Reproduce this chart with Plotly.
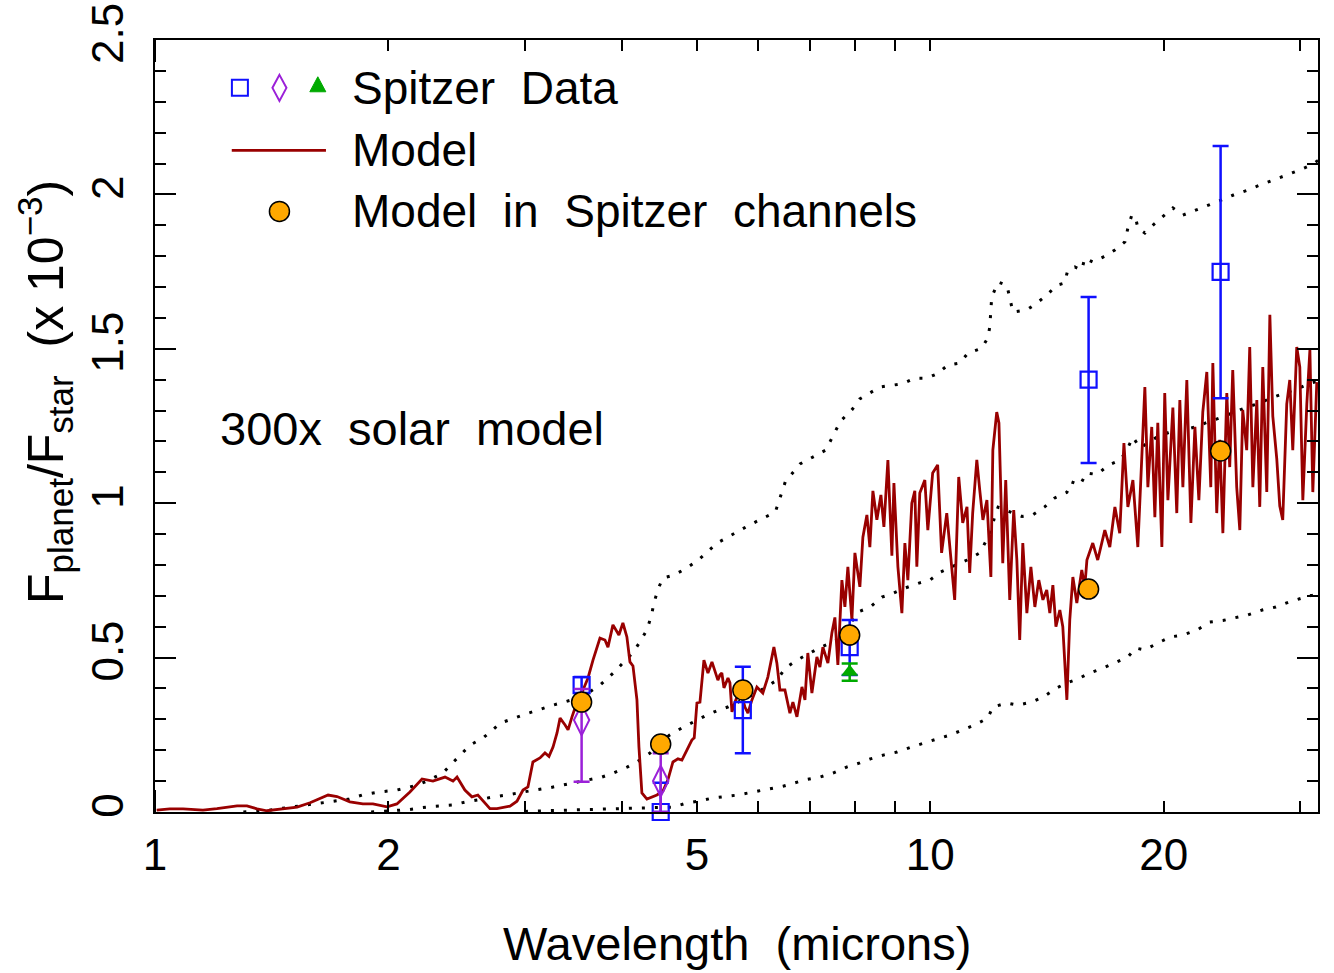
import plotly.graph_objects as go

# ---------------- data ----------------
model_wl = [1.005, 1.015, 1.045, 1.087, 1.153, 1.202, 1.276, 1.314, 1.354, 1.394, 1.463, 1.525, 1.585,
            1.672, 1.717, 1.784, 1.854, 1.910, 1.992, 2.051, 2.132, 2.210, 2.283, 2.366, 2.423, 2.452,
            2.510, 2.563, 2.609, 2.648, 2.704, 2.761, 2.870, 2.930, 2.983, 3.027, 3.072, 3.137, 3.184,
            3.222, 3.261, 3.300, 3.330, 3.380, 3.410, 3.450, 3.502, 3.565, 3.618, 3.672, 3.749, 3.805,
            3.839, 3.896, 3.943, 3.966, 4.013, 4.061, 4.098, 4.135, 4.184, 4.209, 4.246, 4.310, 4.440,
            4.520, 4.587, 4.656, 4.726, 4.782, 4.853, 4.925, 4.960, 5.000, 5.045, 5.105, 5.166, 5.228,
            5.321, 5.354, 5.384, 5.418, 5.483, 5.515, 5.548, 5.598, 5.681, 5.766, 5.818, 5.887, 5.975,
            6.081, 6.172, 6.284, 6.340, 6.397, 6.493, 6.590, 6.649, 6.729, 6.830, 6.891, 6.950, 7.035,
            7.140, 7.204, 7.268, 7.377, 7.465, 7.532, 7.599, 7.690, 7.759, 7.828, 7.922, 7.993, 8.112,
            8.185, 8.283, 8.356, 8.432, 8.532, 8.635, 8.712, 8.816, 8.921, 8.975, 9.082, 9.190, 9.272,
            9.354, 9.465, 9.550, 9.607, 9.692, 9.838, 9.926, 10.07, 10.22, 10.34, 10.50, 10.63, 10.75,
            10.88, 11.01, 11.15, 11.24, 11.34, 11.48, 11.58, 11.69, 11.83, 11.97, 12.04, 12.18, 12.26,
            12.40, 12.51, 12.66, 12.81, 12.93, 13.04, 13.16, 13.32, 13.48, 13.64, 13.80, 13.97, 14.13,
            14.26, 14.39, 14.52, 14.69, 14.82, 15.00, 15.13, 15.27, 15.45, 15.68, 15.82, 15.92, 16.20,
            16.44, 16.79, 17.04, 17.30, 17.55, 17.77, 17.98, 18.25, 18.52, 18.74, 18.91, 19.08, 19.30,
            19.48, 19.65, 19.89, 20.06, 20.25, 20.55, 20.79, 20.98, 21.17, 21.42, 21.68, 21.94, 22.20,
            22.46, 22.73, 23.00, 23.14, 23.41, 23.62, 23.84, 24.12, 24.33, 24.55, 24.84, 25.07, 25.29,
            25.59, 25.82, 26.06, 26.37, 26.60, 26.84, 27.16, 27.41, 27.65, 27.98, 28.23, 28.48, 28.82,
            29.08, 29.34, 29.69, 29.96, 30.23, 30.59, 30.87, 31.14, 31.51]
model_flux = [0.006, 0.007, 0.010, 0.010, 0.006, 0.011, 0.020, 0.020, 0.010, 0.004, 0.010, 0.016, 0.030,
              0.055, 0.050, 0.033, 0.026, 0.026, 0.017, 0.026, 0.065, 0.107, 0.100, 0.113, 0.100, 0.113,
              0.071, 0.049, 0.055, 0.037, 0.011, 0.011, 0.019, 0.035, 0.071, 0.081, 0.162, 0.175, 0.191,
              0.180, 0.210, 0.256, 0.304, 0.282, 0.266, 0.308, 0.356, 0.395, 0.434, 0.492, 0.563, 0.557,
              0.534, 0.606, 0.583, 0.573, 0.612, 0.567, 0.486, 0.473, 0.363, 0.210, 0.062, 0.042, 0.055,
              0.068, 0.104, 0.162, 0.172, 0.168, 0.200, 0.233, 0.240, 0.353, 0.356, 0.492, 0.450, 0.486,
              0.427, 0.444, 0.450, 0.402, 0.434, 0.418, 0.324, 0.356, 0.395, 0.340, 0.320, 0.363, 0.405,
              0.385, 0.437, 0.534, 0.482, 0.395, 0.395, 0.320, 0.356, 0.308, 0.405, 0.363, 0.515, 0.385,
              0.502, 0.469, 0.534, 0.482, 0.580, 0.630, 0.476, 0.751, 0.664, 0.794, 0.622, 0.839, 0.729,
              0.890, 0.962, 0.858, 1.040, 0.946, 1.027, 0.923, 1.140, 0.830, 1.065, 0.794, 0.644, 0.871,
              0.751, 1.000, 1.040, 0.794, 1.033, 1.075, 0.913, 1.098, 1.124, 0.839, 0.968, 0.806, 0.687,
              1.085, 0.936, 0.988, 0.774, 0.968, 1.140, 1.043, 0.946, 1.010, 0.761, 1.172, 1.295, 1.260,
              0.806, 1.075, 0.687, 0.978, 0.816, 0.557, 0.871, 0.644, 0.794, 0.664, 0.751, 0.687, 0.719,
              0.644, 0.735, 0.600, 0.654, 0.600, 0.363, 0.622, 0.761, 0.677, 0.784, 0.729, 0.816, 0.871,
              0.816, 0.913, 0.858, 0.988, 0.903, 1.195, 0.988, 1.075, 0.858, 1.150, 1.376, 1.052, 1.247,
              0.955, 1.260, 0.858, 1.357, 1.010, 1.310, 0.968, 1.334, 1.052, 1.399, 0.936, 1.247, 1.010,
              1.295, 1.425, 1.052, 1.454, 0.968, 1.205, 0.903, 1.357, 1.117, 1.431, 1.052, 0.913, 1.302,
              1.172, 1.506, 1.052, 1.334, 0.988, 1.441, 1.036, 1.610, 1.282, 1.143, 0.991, 0.946, 1.321,
              1.399, 1.172, 1.506, 1.441, 1.010, 1.321, 1.496, 1.036, 1.392]

hot_wl = [1.30, 1.40, 1.46, 1.53, 1.59, 1.67, 1.72, 1.78, 1.85, 1.95, 2.05, 2.11, 2.18, 2.26, 2.35, 2.42,
          2.49, 2.55, 2.65, 2.79, 3.03, 3.26, 3.55, 3.75, 3.90, 4.01, 4.13, 4.22, 4.31, 4.37, 4.40, 4.46,
          4.52, 4.67, 4.85, 5.02, 5.31, 5.85, 6.31, 6.50, 6.79, 7.33, 7.66, 7.92, 8.11, 8.61, 9.21, 9.55,
          9.90, 10.22, 10.53, 10.92, 11.18, 11.65, 11.86, 11.93, 12.00, 12.23, 12.55, 12.66, 12.78, 13.32,
          13.72, 14.13, 14.56, 14.90, 15.04, 15.36, 15.68, 15.82, 16.20, 16.70, 17.30, 17.82, 17.98, 18.19,
          18.39, 18.52, 18.91, 19.36, 19.95, 20.55, 21.17, 22.07, 22.93, 23.76, 24.60, 25.67, 26.60, 27.65,
          28.82, 29.96, 31.00, 31.62]
hot_flux = [0.000, 0.005, 0.012, 0.018, 0.025, 0.032, 0.036, 0.042, 0.055, 0.065, 0.071, 0.078, 0.087,
            0.104, 0.126, 0.159, 0.191, 0.217, 0.240, 0.288, 0.320, 0.346, 0.372, 0.411, 0.450, 0.482,
            0.515, 0.550, 0.590, 0.638, 0.677, 0.725, 0.758, 0.767, 0.790, 0.816, 0.871, 0.930, 0.971,
            1.069, 1.127, 1.172, 1.266, 1.302, 1.338, 1.376, 1.387, 1.405, 1.405, 1.420, 1.447, 1.454,
            1.486, 1.502, 1.535, 1.570, 1.668, 1.716, 1.706, 1.665, 1.619, 1.626, 1.648, 1.674, 1.706,
            1.713, 1.755, 1.765, 1.755, 1.794, 1.781, 1.797, 1.820, 1.846, 1.891, 1.933, 1.927, 1.891,
            1.875, 1.900, 1.927, 1.956, 1.933, 1.950, 1.966, 1.982, 1.998, 2.014, 2.030, 2.047, 2.063,
            2.079, 2.095, 2.110]

mid_wl = [1.90, 2.13, 2.21, 2.28, 2.42, 2.51, 2.61, 2.73, 2.84, 2.98, 3.07, 3.22, 3.36, 3.56, 3.77, 3.90,
          4.07, 4.22, 4.35, 4.47, 4.61, 4.78, 4.94, 5.15, 5.33, 5.48, 5.80, 6.05, 6.34, 6.50, 6.73, 6.95,
          7.20, 7.58, 8.11, 8.37, 8.66, 8.90, 9.20, 9.69, 10.00, 10.30, 11.15, 11.58, 11.97, 12.10, 12.23,
          12.58, 13.13, 13.55, 14.04, 14.47, 15.00, 15.20, 15.60, 15.90, 16.40, 16.99, 17.60, 17.98, 18.25,
          18.64, 19.65, 20.40, 21.17, 22.00, 22.80, 23.62, 24.60, 25.60, 26.60, 27.50, 28.70, 29.90, 30.90,
          31.62]
mid_flux = [0.000, 0.008, 0.014, 0.018, 0.023, 0.032, 0.039, 0.049, 0.055, 0.065, 0.070, 0.078, 0.088,
            0.100, 0.113, 0.126, 0.146, 0.168, 0.191, 0.223, 0.249, 0.272, 0.290, 0.314, 0.330, 0.340,
            0.370, 0.395, 0.427, 0.466, 0.492, 0.512, 0.532, 0.557, 0.650, 0.664, 0.696, 0.705, 0.722,
            0.742, 0.752, 0.777, 0.816, 0.839, 0.907, 0.955, 0.987, 0.975, 0.957, 0.962, 0.988, 1.017,
            1.035, 1.069, 1.059, 1.098, 1.093, 1.124, 1.140, 1.180, 1.214, 1.179, 1.216, 1.231, 1.237,
            1.247, 1.263, 1.276, 1.295, 1.311, 1.324, 1.341, 1.357, 1.373, 1.389, 1.395]

cold_wl = [3.00, 4.10, 4.50, 4.66, 4.85, 5.05, 5.23, 5.64, 6.00, 6.47, 6.89, 7.20, 7.49, 7.81, 8.11, 8.37,
           8.72, 9.06, 9.47, 9.84, 10.19, 10.60, 11.01, 11.41, 11.86, 12.04, 12.55, 12.96, 13.51, 13.97,
           14.56, 15.00, 15.50, 16.05, 16.70, 17.30, 17.98, 18.39, 18.91, 19.65, 20.40, 21.17, 22.07, 22.93,
           23.84, 24.60, 25.67, 26.80, 27.90, 29.00, 30.30, 31.14, 31.62]
cold_flux = [0.002, 0.013, 0.015, 0.016, 0.029, 0.036, 0.045, 0.055, 0.068, 0.084, 0.104, 0.113, 0.126,
             0.146, 0.159, 0.172, 0.185, 0.194, 0.211, 0.223, 0.236, 0.249, 0.266, 0.282, 0.304, 0.340,
             0.353, 0.346, 0.356, 0.372, 0.402, 0.418, 0.431, 0.450, 0.466, 0.482, 0.502, 0.531, 0.525,
             0.547, 0.567, 0.573, 0.589, 0.615, 0.620, 0.628, 0.638, 0.654, 0.664, 0.680, 0.693, 0.703,
             0.710]

blue_wl = [3.55, 4.49, 5.73, 7.87, 16.0, 23.68]
blue_flux = [0.411, 0.000, 0.330, 0.534, 1.400, 1.749]
blue_err_plus = [0.026, 0.095, 0.140, 0.088, 0.268, 0.408]
blue_err_minus = [0.026, 0.000, 0.140, 0.090, 0.270, 0.409]

purple_wl = [3.55, 4.49]
purple_flux = [0.298, 0.100]
purple_err_plus = [0.100, 0.090]
purple_err_minus = [0.200, 0.100]

green_wl = [7.87]
green_flux = [0.453]
green_err = [0.028]

chan_wl = [3.55, 4.49, 5.73, 7.87, 16.0, 23.68]
chan_flux = [0.356, 0.220, 0.395, 0.573, 0.722, 1.169]

x_tickvals = [1, 2, 5, 10, 20]
x_minor_tickvals = [3, 4, 6, 7, 8, 9, 30]
y_tickvals = [0, 0.5, 1, 1.5, 2, 2.5]
y_ticktext = ["0", "0.5", "1", "1.5", "2", "2.5"]

# ---------------- styles ----------------
FONT = "Liberation Sans, Arial, sans-serif"
RED = "#990000"
BLUE = "#1010FF"
PURPLE = "#9B20D8"
GREEN = "#00AA00"
ORANGE = "#FFA800"
DOT = dict(color="black", width=3, dash="3px,10px")

fig = go.Figure()
for wl, fl in [(hot_wl, hot_flux), (mid_wl, mid_flux), (cold_wl, cold_flux)]:
    fig.add_trace(go.Scatter(x=wl, y=fl, mode="lines", line=DOT, showlegend=False))

fig.add_trace(go.Scatter(x=model_wl, y=model_flux, mode="lines",
                         line=dict(color=RED, width=2.8), showlegend=False))

fig.add_trace(go.Scatter(
    x=blue_wl, y=blue_flux, mode="markers", cliponaxis=False, showlegend=False,
    marker=dict(symbol="square-open", size=16, color=BLUE, line=dict(width=2.2, color=BLUE)),
    error_y=dict(type="data", symmetric=False, array=blue_err_plus, arrayminus=blue_err_minus,
                 color=BLUE, thickness=2.5, width=8)))

fig.add_trace(go.Scatter(
    x=purple_wl, y=purple_flux, mode="markers", cliponaxis=False, showlegend=False,
    marker=dict(symbol="diamond-tall-open", size=22, color=PURPLE, line=dict(width=2, color=PURPLE)),
    error_y=dict(type="data", symmetric=False, array=purple_err_plus, arrayminus=purple_err_minus,
                 color=PURPLE, thickness=2.5, width=8)))

fig.add_trace(go.Scatter(
    x=green_wl, y=green_flux, mode="markers", cliponaxis=False, showlegend=False,
    marker=dict(symbol="triangle-up", size=15, color=GREEN),
    error_y=dict(type="data", array=green_err, color=GREEN, thickness=2.5, width=8)))

fig.add_trace(go.Scatter(
    x=chan_wl, y=chan_flux, mode="markers", cliponaxis=False, showlegend=False,
    marker=dict(symbol="circle", size=20, color=ORANGE, line=dict(width=1.5, color="black"))))

# ---------------- legend glyphs (drawn as pixel-sized shapes) ----------------
shapes = []
row1, row2, row3 = 0.938, 0.857, 0.778
shapes.append(dict(type="rect", xref="paper", yref="paper", xsizemode="pixel", ysizemode="pixel",
                   xanchor=0.073, yanchor=row1, x0=-8, x1=8, y0=-8, y1=8,
                   line=dict(color=BLUE, width=2)))
shapes.append(dict(type="path", xref="paper", yref="paper", xsizemode="pixel", ysizemode="pixel",
                   xanchor=0.107, yanchor=row1, path="M0,13 L7,0 L0,-13 L-7,0 Z",
                   line=dict(color=PURPLE, width=2)))
shapes.append(dict(type="path", xref="paper", yref="paper", xsizemode="pixel", ysizemode="pixel",
                   xanchor=0.140, yanchor=row1 + 0.004, path="M-8,-7 L8,-7 L0,8 Z",
                   fillcolor=GREEN, line=dict(color=GREEN, width=1)))
shapes.append(dict(type="line", xref="paper", yref="paper", x0=0.066, x1=0.147, y0=row2, y1=row2,
                   line=dict(color=RED, width=2.8)))
shapes.append(dict(type="circle", xref="paper", yref="paper", xsizemode="pixel", ysizemode="pixel",
                   xanchor=0.107, yanchor=row3, x0=-10, x1=10, y0=-10, y1=10,
                   fillcolor=ORANGE, line=dict(color="black", width=1.5)))
# longer decade ticks at 10 microns (bottom and top)
for y0, y1 in [(0, 22 / 772), (1 - 22 / 772, 1)]:
    shapes.append(dict(type="line", xref="x", yref="paper", x0=1, x1=1, y0=y0, y1=y1,
                       line=dict(color="black", width=2)))

TXT = dict(size=46, color="black", family=FONT)
annotations = [
    dict(text="Spitzer  Data", x=0.168, y=row1, xref="paper", yref="paper", xanchor="left",
         yanchor="middle", showarrow=False, font=TXT),
    dict(text="Model", x=0.168, y=row2, xref="paper", yref="paper", xanchor="left",
         yanchor="middle", showarrow=False, font=TXT),
    dict(text="Model  in  Spitzer  channels", x=0.168, y=row3, xref="paper", yref="paper",
         xanchor="left", yanchor="middle", showarrow=False, font=TXT),
    dict(text="300x  solar  model", x=0.054, y=0.497, xref="paper", yref="paper", xanchor="left",
         yanchor="middle", showarrow=False, font=dict(size=47, color="black", family=FONT)),
    # axis titles
    dict(text="Wavelength  (microns)", x=0.5, y=-0.1697, xref="paper", yref="paper",
         xanchor="center", yanchor="middle", showarrow=False,
         font=dict(size=47, color="black", family=FONT)),
    dict(text="F<sub>planet</sub>/F<sub>star</sub>  (x 10<sup>−3</sup>)", x=-0.0946, y=0.544,
         xref="paper", yref="paper", xanchor="center", yanchor="middle", textangle=-90,
         showarrow=False, font=dict(size=50, color="black", family=FONT)),
]

fig.update_layout(
    width=1334, height=973,
    margin=dict(l=155, r=16, t=40, b=161),
    paper_bgcolor="white", plot_bgcolor="white",
    font=dict(family=FONT, color="black", size=44),
    shapes=shapes, annotations=annotations, showlegend=False,
)
fig.update_xaxes(
    type="log", range=[0, 1.5], showgrid=False, zeroline=False, automargin=False,
    showline=True, linecolor="black", linewidth=2, mirror="allticks",
    ticks="inside", ticklen=11, tickwidth=2, tickcolor="black",
    tickvals=x_tickvals, ticktext=[str(v) for v in x_tickvals],
    tickfont=dict(size=44, family=FONT), ticklabelstandoff=3, ticklabeloverflow="allow",
    minor=dict(tickvals=x_minor_tickvals, ticks="inside", ticklen=11, tickwidth=2, tickcolor="black"),
)
fig.update_yaxes(
    range=[0, 2.5], showgrid=False, zeroline=False, automargin=False,
    showline=True, linecolor="black", linewidth=2, mirror="allticks",
    ticks="inside", ticklen=21, tickwidth=2, tickcolor="black",
    tickvals=y_tickvals, ticktext=y_ticktext, tickangle=-90,
    tickfont=dict(size=44, family=FONT), ticklabelstandoff=12, ticklabeloverflow="allow",
    minor=dict(dtick=0.1, ticks="inside", ticklen=11, tickwidth=2, tickcolor="black"),
)

# remove the default 8 px page margin so the figure fills the window exactly
fig.write_html("out.html", config={"displayModeBar": False},
               post_script="document.body.style.margin='0px';")
